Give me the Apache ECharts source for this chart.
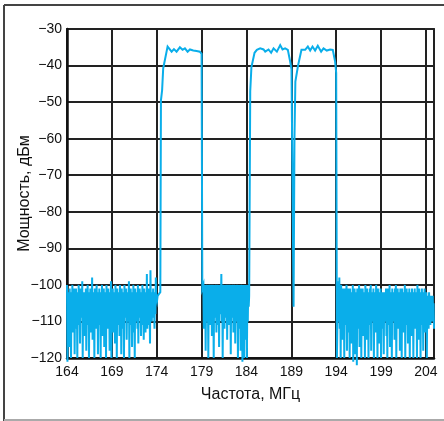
<!DOCTYPE html>
<html>
<head>
<meta charset="utf-8">
<script src="https://cdn.jsdelivr.net/npm/echarts@6/dist/echarts.min.js"></script>
<style>
html,body{margin:0;padding:0;background:#fff;}
#chart{width:444px;height:421px;}
</style>
</head>
<body>
<div id="chart"></div>
<script>
// Axis settings
const freqMin = 164;
const freqMax = 204.9;
const freqTicks = [164, 169, 174, 179, 184, 189, 194, 199, 204];
const powerTicks = [-120, -110, -100, -90, -80, -70, -60, -50, -40, -30];

// Noise floor segments (start freq, step 0.05 MHz), values in dBm
const noiseStep = 0.05;
const noise1Start = 164.0;
const noise1 = [
  -100,-121,-102,-110,-104,-117,-101,-108,-103,-120,
  -102,-106,-100,-113,-104,-109,-101,-119,-103,-107,
  -101,-112,-104,-120,-102,-108,-100,-111,-103,-116,
  -101,-109,-104,-106,-99,-120,-103,-110,-102,-114,
  -104,-107,-101,-118,-103,-111,-100,-108,-102,-120,
  -104,-109,-101,-113,-103,-107,-98,-115,-102,-110,
  -104,-120,-101,-108,-103,-112,-100,-106,-102,-119,
  -104,-109,-101,-111,-103,-120,-102,-107,-100,-114,
  -103,-110,-101,-117,-104,-108,-102,-120,-100,-109,
  -103,-112,-101,-106,-104,-118,-102,-110,-99,-120,
  -103,-108,-101,-113,-104,-109,-102,-116,-100,-107,
  -103,-120,-101,-111,-104,-108,-102,-114,-100,-110,
  -103,-119,-101,-107,-104,-112,-102,-120,-100,-109,
  -103,-106,-101,-115,-104,-110,-102,-108,-99,-120,
  -103,-111,-101,-109,-104,-117,-102,-107,-100,-113,
  -103,-120,-101,-108,-104,-110,-102,-112,-100,-116,
  -103,-109,-101,-106,-104,-114,-102,-111,-100,-108,
  -103,-115,-101,-110,-104,-113,-102,-109,-97,-112,
  -103,-108,-101,-111,-104,-116,-96,-107,-102,-110,
  -103,-106,-101,-109,-104,-112,-102,-108,-98,-105,
  -103,-104,-103
];
const noise2Start = 179.2;
const noise2 = [
  -100,-112,-101,-106,-100,-118,-102,-108,-100,-110,
  -101,-120,-100,-107,-102,-111,-100,-105,-101,-114,
  -100,-108,-102,-120,-100,-109,-101,-106,-100,-113,
  -102,-107,-100,-111,-101,-117,-100,-108,-102,-106,
  -97,-110,-101,-120,-100,-107,-102,-112,-100,-109,
  -101,-105,-100,-115,-102,-108,-100,-111,-101,-107,
  -100,-119,-102,-109,-100,-106,-101,-113,-100,-108,
  -102,-116,-100,-110,-101,-107,-100,-120,-102,-109,
  -100,-112,-101,-118,-100,-108,-102,-121,-100,-111,
  -101,-120,-100,-109,-102,-115,-100,-120,-101,-110,
  -100,-106,-103
];
const noise3Start = 194.2;
const noise3 = [
  -99,-103,-110,-98,-112,-101,-120,-100,-107,-102,
  -115,-101,-108,-103,-120,-101,-111,-104,-107,-100,
  -118,-102,-109,-101,-113,-103,-120,-101,-106,-104,
  -116,-102,-110,-100,-121,-103,-108,-101,-119,-102,
  -107,-104,-122,-101,-112,-103,-109,-100,-117,-102,
  -106,-101,-120,-103,-110,-101,-114,-104,-108,-102,
  -120,-100,-109,-103,-115,-101,-107,-102,-120,-104,
  -111,-101,-108,-100,-118,-103,-110,-102,-106,-101,
  -120,-104,-109,-102,-113,-100,-107,-103,-120,-101,
  -110,-102,-116,-104,-108,-101,-120,-103,-112,-102,
  -107,-104,-119,-102,-110,-103,-108,-101,-114,-102,
  -120,-101,-109,-103,-111,-100,-117,-102,-108,-104,
  -120,-101,-110,-103,-106,-102,-115,-101,-109,-100,
  -120,-103,-108,-101,-112,-104,-107,-102,-118,-101,
  -110,-103,-120,-101,-109,-102,-113,-104,-108,-100,
  -120,-102,-111,-101,-107,-103,-116,-102,-109,-101,
  -120,-104,-108,-102,-114,-101,-110,-103,-120,-102,
  -107,-101,-112,-104,-109,-102,-120,-100,-108,-103,
  -115,-101,-110,-102,-120,-104,-107,-101,-111,-103,
  -118,-102,-109,-101,-113,-103,-108,-102,-120,-104,
  -110,-103,-112,-102,-108,-104,-111,-103,-106,-104,
  -110,-103,-108,-105,-112
];

// Channel blocks: [freq MHz, power dBm]
const channel1 = [
  [174.2,-103],[174.4,-102],[174.47,-49.5],[174.6,-46.7],[174.72,-40.8],
  [175.21,-34.8],[175.66,-36.2],[175.92,-35.5],[176.21,-36.2],[176.58,-35.0],
  [176.88,-35.7],[177.14,-35.3],[177.44,-36.2],[177.70,-35.6],[178.07,-35.9],
  [178.44,-36.0],[178.81,-36.2],[179.0,-36.8],[179.08,-101]
];
const channel2 = [
  [184.42,-47],[184.55,-40.5],[184.9,-36.5],[185.16,-35.7],[185.53,-35.3],
  [185.9,-35.6],[186.09,-36.2],[186.46,-35.6],[186.75,-36.5],[187.02,-35.3],
  [187.39,-36.2],[187.76,-34.4],[188.02,-35.6],[188.31,-35.3],[188.61,-35.7],
  [188.87,-38.9],[189.02,-41],[189.25,-106]
];
const channel3 = [
  [189.35,-60],[189.45,-44.4],[189.75,-40],[190.13,-35.7],[190.54,-35.7],
  [190.84,-34.8],[191.1,-35.9],[191.36,-34.8],[191.65,-35.9],[191.95,-34.6],
  [192.32,-36.2],[192.59,-35.3],[192.95,-35.9],[193.32,-35.6],[193.62,-35.7],
  [193.88,-38.9],[194.0,-42],[194.08,-120]
];

function noisePairs(start, vals) {
  return vals.map((v, i) => [Math.round((start + i * noiseStep) * 1000) / 1000, v]);
}
const trace = []
  .concat(noisePairs(noise1Start, noise1))
  .concat(channel1)
  .concat(noisePairs(noise2Start, noise2))
  .concat(channel2)
  .concat(channel3)
  .concat(noisePairs(noise3Start, noise3));

// x axis uses offset from freqMin so ticks start at 164
const seriesData = trace.map(p => [p[0] - freqMin, p[1]]);

const FONT = 'Liberation Sans, Arial, Helvetica, sans-serif';
const chart = echarts.init(document.getElementById('chart'), null, {renderer: 'canvas'});
chart.setOption({
  animation: false,
  backgroundColor: '#fff',
  grid: {left: 67, top: 29, right: 10, bottom: 63, show: true, borderColor: '#333', borderWidth: 2,
         backgroundColor: 'transparent', containLabel: false, outerBoundsMode: 'none'},
  xAxis: {
    type: 'value',
    min: 0,
    max: freqMax - freqMin,
    interval: freqTicks[1] - freqTicks[0],
    name: 'Частота, МГц',
    nameLocation: 'middle',
    nameGap: 29,
    nameMoveOverlap: false,
    nameTextStyle: {fontFamily: FONT, fontSize: 16, color: '#111'},
    axisLine: {show: true, onZero: false, lineStyle: {color: '#111', width: 2.5}},
    axisTick: {show: false},
    axisLabel: {
      fontFamily: FONT, fontSize: 14, color: '#111', margin: 7,
      showMaxLabel: false,
      formatter: v => String(Math.round(v + freqMin))
    },
    splitLine: {show: true, lineStyle: {color: '#222', width: 2}}
  },
  yAxis: {
    type: 'value',
    min: powerTicks[0],
    max: powerTicks[powerTicks.length - 1],
    interval: 10,
    name: 'Мощность, дБм',
    nameLocation: 'middle',
    nameGap: 34,
    nameMoveOverlap: false,
    nameTextStyle: {fontFamily: FONT, fontSize: 16, color: '#111'},
    axisLine: {show: true, onZero: false, lineStyle: {color: '#111', width: 2.5}},
    axisTick: {show: false},
    axisLabel: {
      fontFamily: FONT, fontSize: 14, color: '#111', margin: 5,
      formatter: v => String(v).replace('-', '\u2212')
    },
    splitLine: {show: true, lineStyle: {color: '#222', width: 2}}
  },
  graphic: [
    {type: 'line', shape: {x1: 4, y1: 5, x2: 444, y2: 5}, style: {stroke: '#444', lineWidth: 2}, z: 10},
    {type: 'line', shape: {x1: 4, y1: 5, x2: 4, y2: 421}, style: {stroke: '#444', lineWidth: 2}, z: 10},
    {type: 'line', shape: {x1: 4, y1: 420, x2: 444, y2: 420}, style: {stroke: '#aaa', lineWidth: 2}, z: 10}
  ],
  series: [{
    type: 'line',
    data: seriesData,
    showSymbol: false,
    symbol: 'none',
    clip: false,
    lineStyle: {color: '#0aaeea', width: 2, join: 'miter'},
    z: 5
  }]
});
</script>
</body>
</html>
